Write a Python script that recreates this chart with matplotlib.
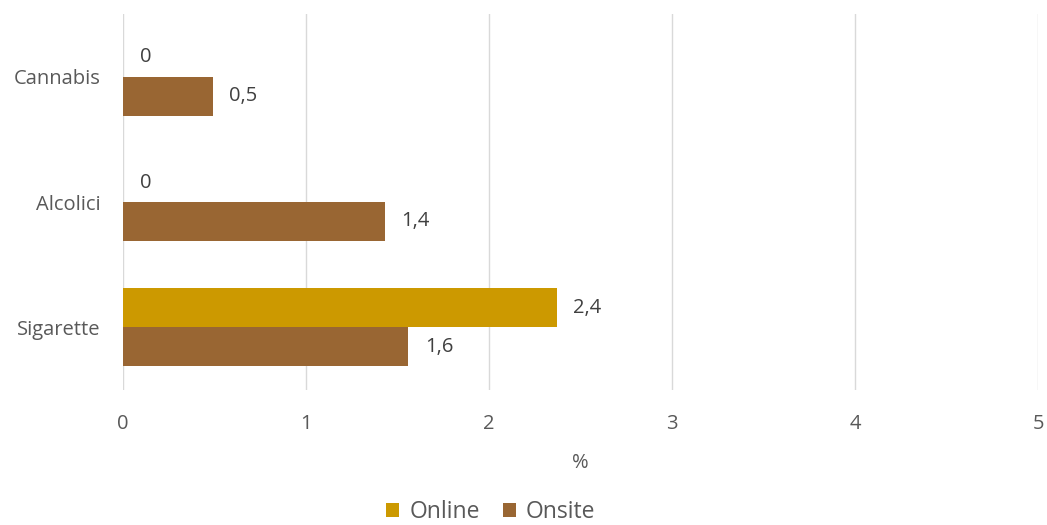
import numpy as np
import matplotlib.pyplot as plt

categories = ["Sigarette", "Alcolici", "Cannabis"]
online = [2.37, 0.0, 0.0]
onsite = [1.56, 1.43, 0.49]
series_names = ["Online", "Onsite"]
colors = ["#CC9900", "#996633"]
x_ticks = [0, 1, 2, 3, 4, 5]

plt.rcParams['font.family'] = ['Open Sans', 'DejaVu Sans']

fig = plt.figure(figsize=(10.47, 5.25), dpi=100)
ax = fig.add_axes([123 / 1047, 1 - 390 / 525, (1038 - 123) / 1047, (390 - 14) / 525])

y = np.arange(len(categories))
h = 0.31
b1 = ax.barh(y + h / 2, online, height=h, color=colors[0], label=series_names[0], zorder=3)
b2 = ax.barh(y - h / 2, onsite, height=h, color=colors[1], label=series_names[1], zorder=3)

def fmt(v):
    return f"{v:.1f}".replace(".", ",") if v != 0 else "0"

for bars, vals in ((b1, online), (b2, onsite)):
    for bar, v in zip(bars, vals):
        ax.annotate(fmt(v), (bar.get_width(), bar.get_y() + bar.get_height() / 2),
                    xytext=(12, 0), textcoords="offset points", va="center", ha="left",
                    fontsize=14.5, color="#404040")

ax.set_xlim(0, 5)
ax.set_ylim(-0.5, 2.5)
ax.set_xticks(x_ticks)
ax.set_xticklabels([str(t) for t in x_ticks])
ax.set_yticks(y)
ax.set_yticklabels(categories)
ax.tick_params(axis="both", length=0, labelsize=14.5, colors="#595959")
ax.tick_params(axis="x", pad=17)
ax.tick_params(axis="y", pad=16)
ax.grid(axis="x", color="#D9D9D9", linewidth=1, zorder=0)
for s in ax.spines.values():
    s.set_visible(False)

ax.set_xlabel("%", fontsize=14.5, color="#595959", labelpad=14)

fig.legend(loc="center", bbox_to_anchor=(491 / 1047, 1 - 512 / 525), ncol=2, frameon=False,
           fontsize=16.5, handlelength=0.57, handleheight=0.57, handletextpad=0.44, columnspacing=1.0,
           labelcolor="#595959")

fig.savefig("out.png")
